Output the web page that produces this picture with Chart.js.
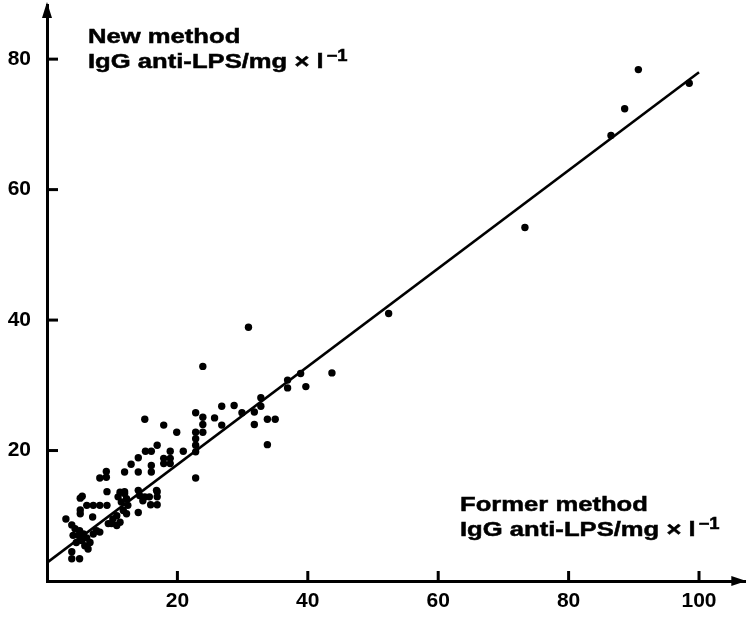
<!DOCTYPE html>
<html>
<head>
<meta charset="utf-8">
<script src="https://cdn.jsdelivr.net/npm/chart.js@4.4.1/dist/chart.umd.min.js"></script>
<style>
  html, body { margin: 0; padding: 0; background: #fff; }
  #wrap { width: 749px; height: 623px; position: relative; }
</style>
</head>
<body>
<div id="wrap"><canvas id="c" width="749" height="623"></canvas></div>
<script>
// Former method (x) vs New method (y), IgG anti-LPS mg/l
const formerX = [
  98.5, 90.7, 88.6, 86.5, 73.3, 52.4, 43.7, 39.7, 38.9, 36.9, 36.9, 30.9, 23.9,
  32.8, 32.8, 31.8, 31.8, 33.8, 35.0, 33.8, 29.9, 28.7, 26.8, 25.7, 26.8, 22.8, 23.9, 23.9, 23.9,
  22.8, 22.8, 22.8, 22.8, 22.8, 20.9, 19.9, 17.9, 16.9, 16.0, 18.9, 18.9, 17.9, 17.9, 18.9, 16.0, 16.0, 16.9,
  15.0, 15.1, 14.0, 12.9, 14.0, 11.9, 9.1, 9.1, 8.1,
  11.9, 9.2, 5.1, 6.1, 7.1, 8.1, 9.2, 5.1, 5.1, 2.9, 7.0, 8.1, 3.8, 3.8, 5.0,
  11.2, 10.9, 11.4, 11.9, 12.2, 12.4, 11.7, 10.7, 10.1, 9.9, 10.7, 11.2, 12.2,
  14.0, 14.2, 15.0, 14.7, 15.7, 16.8, 16.9, 15.9, 16.9, 14.0, 9.4,
  3.8, 4.3, 5.0, 5.6, 4.8, 6.1, 5.3, 6.6, 5.8, 4.5, 6.3, 7.1, 7.6, 4.0, 5.4
];
const newY = [
  76.3, 78.4, 72.4, 68.3, 54.2, 41.0, 31.9, 29.8, 31.8, 30.8, 29.6, 38.9, 32.9,
  28.1, 26.8, 25.9, 24.0, 24.8, 24.8, 20.9, 25.8, 26.9, 26.8, 25.0, 23.9, 25.8, 25.1, 24.0, 22.8,
  22.8, 21.8, 20.8, 19.8, 15.8, 19.9, 22.8, 23.9, 20.8, 19.9, 19.9, 18.8, 18.8, 18.0, 18.0, 17.7, 16.7, 13.7,
  24.8, 19.9, 18.9, 17.9, 16.7, 16.7, 16.8, 15.9, 15.8,
  13.7, 13.7, 12.7, 11.6, 11.6, 11.6, 11.6, 10.9, 10.3, 9.5, 9.8, 7.5, 4.5, 3.4, 3.4,
  13.6, 12.9, 12.1, 13.4, 12.6, 11.6, 10.8, 10.0, 9.5, 8.8, 8.5, 9.0, 10.3,
  13.9, 13.1, 12.9, 12.3, 12.9, 13.9, 12.9, 11.7, 11.7, 10.5, 8.8,
  8.6, 8.0, 7.7, 7.2, 7.0, 6.6, 6.2, 5.9, 5.4, 5.9, 4.9, 7.2, 7.7, 7.0, 13.0
];
// Regression line end points
const lineX = [0, 100];
const lineY = [2.8, 78];
// Tick labels
const xTicks = [20, 40, 60, 80, 100];
const yTicks = [20, 40, 60, 80];
// Axis titles
const yTitle = ["New method", "IgG anti-LPS/mg \u00d7 l", "\u22121"];
const xTitle = ["Former method", "IgG anti-LPS/mg \u00d7 l", "\u22121"];

const FONT = '"Liberation Sans", Arial, Helvetica, sans-serif';

const scatterData = formerX.map((x, i) => ({ x: x, y: newY[i] }));
const lineData = lineX.map((x, i) => ({ x: x, y: lineY[i] }));

const decor = {
  id: 'decor',
  afterDraw(chart) {
    const ctx = chart.ctx;
    const xs = chart.scales.x, ys = chart.scales.y;
    const left = xs.getPixelForValue(0);
    const bottom = ys.getPixelForValue(0);
    ctx.save();
    ctx.fillStyle = '#000';
    ctx.strokeStyle = '#000';
    ctx.lineWidth = 3;
    ctx.lineCap = 'butt';
    ctx.setLineDash([]);
    // inward tick marks at library scale positions
    for (const v of xTicks) {
      const p = xs.getPixelForValue(v);
      ctx.beginPath();
      ctx.moveTo(p, bottom + 1);
      ctx.lineTo(p, bottom - 10);
      ctx.stroke();
    }
    for (const v of yTicks) {
      const p = ys.getPixelForValue(v);
      ctx.beginPath();
      ctx.moveTo(left - 1, p);
      ctx.lineTo(left + 11, p);
      ctx.stroke();
    }
    // arrow heads
    const top = chart.chartArea.top, right = chart.chartArea.right;
    ctx.beginPath();
    ctx.moveTo(left, top - 3); ctx.lineTo(left - 5, top + 13); ctx.lineTo(left + 5, top + 13); ctx.closePath(); ctx.fill();
    ctx.beginPath();
    ctx.moveTo(right + 1, bottom); ctx.lineTo(right - 14, bottom - 5); ctx.lineTo(right - 14, bottom + 5); ctx.closePath(); ctx.fill();

    // titles
    function stretched(text, x, y, size, sx) {
      ctx.save();
      ctx.font = 'bold ' + size + 'px ' + FONT;
      ctx.translate(x, y); ctx.scale(sx, 1);
      ctx.lineWidth = 0.5;
      ctx.fillText(text, 0, 0);
      ctx.strokeText(text, 0, 0);
      const w = ctx.measureText(text).width * sx;
      ctx.restore();
      return w;
    }
    ctx.textBaseline = 'alphabetic';
    ctx.textAlign = 'left';
    function title(lines, x, y) {
      stretched(lines[0], x, y, 21, 1.22);
      const y2 = y + 25;
      const w = stretched(lines[1], x, y2, 21, 1.22);
      stretched(lines[2], x + w + 3, y2 - 7, 16, 1.15);
    }
    title(yTitle, 88, 43);
    title(xTitle, 460, 511);
    ctx.restore();
  }
};

new Chart(document.getElementById('c'), {
  type: 'scatter',
  data: {
    datasets: [
      {
        data: scatterData,
        backgroundColor: '#000',
        borderColor: '#000',
        pointRadius: 3.7,
        pointHoverRadius: 3.7,
        borderWidth: 0
      },
      {
        type: 'line',
        data: lineData,
        borderColor: '#000',
        borderWidth: 2.6,
        pointRadius: 0,
        fill: false,
        tension: 0
      }
    ]
  },
  options: {
    responsive: false,
    animation: false,
    events: [],
    layout: { padding: { top: 5, right: 2, left: 0, bottom: 0 } },
    plugins: { legend: { display: false }, tooltip: { enabled: false } },
    scales: {
      x: {
        type: 'linear',
        min: 0, max: 107.1,
        afterFit: s => { s.height = 42; },
        afterBuildTicks: s => { s.ticks = xTicks.map(v => ({ value: v })); },
        grid: { display: false, drawTicks: false },
        border: { display: true, color: '#000', width: 3 },
        ticks: {
          color: '#000', padding: 8,
          font: { family: FONT, size: 21, weight: 'bold' },
          maxRotation: 0, autoSkip: false
        }
      },
      y: {
        type: 'linear',
        min: 0, max: 88.3,
        afterFit: s => { s.width = 47; s.paddingTop = 0; s.paddingBottom = 0; },
        afterBuildTicks: s => { s.ticks = yTicks.map(v => ({ value: v })); },
        grid: { display: false, drawTicks: false },
        border: { display: true, color: '#000', width: 3 },
        ticks: {
          color: '#000', padding: 16,
          font: { family: FONT, size: 21, weight: 'bold' },
          autoSkip: false
        }
      }
    }
  },
  plugins: [decor]
});
</script>
</body>
</html>
